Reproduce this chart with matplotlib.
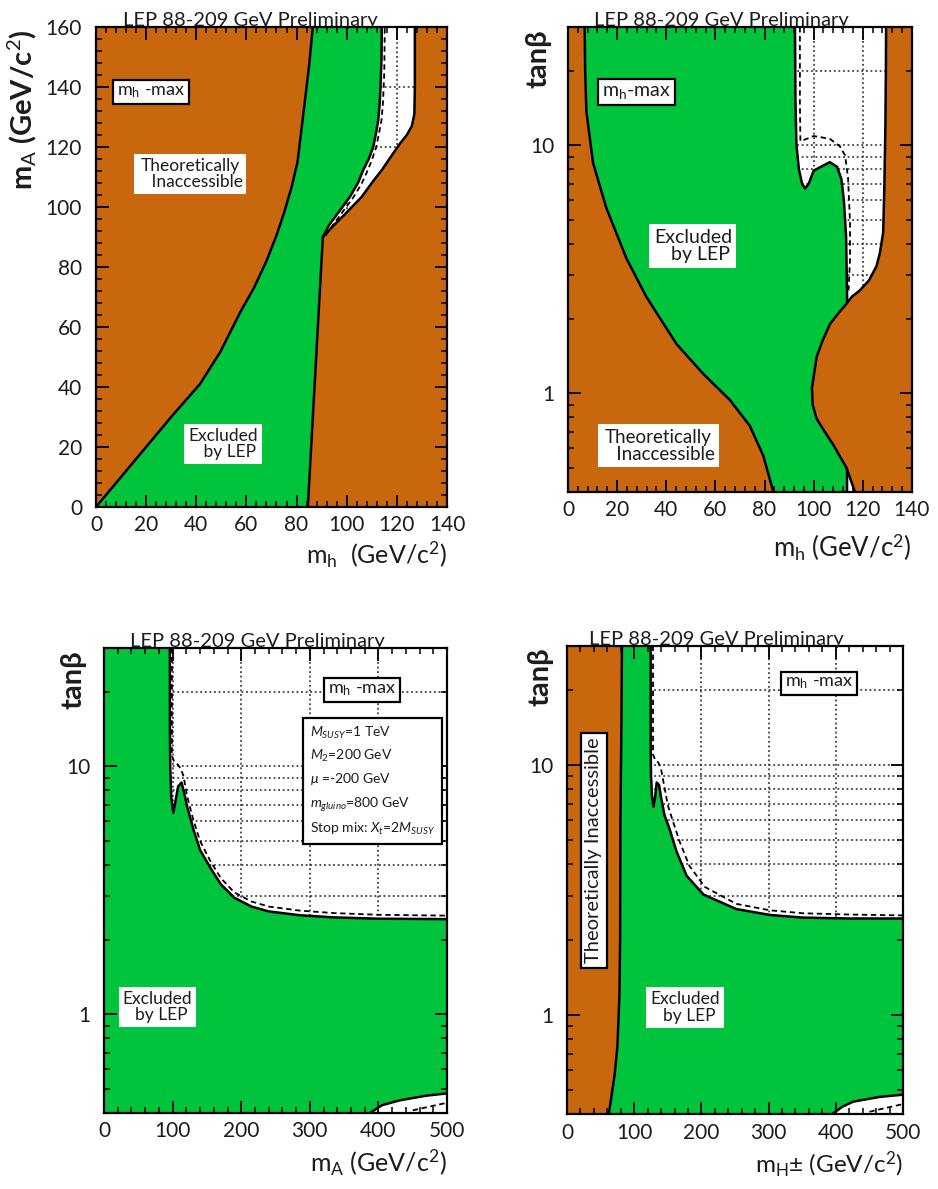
import matplotlib
matplotlib.use("Agg")
import matplotlib.pyplot as plt
from matplotlib.ticker import MultipleLocator, FixedLocator, FixedFormatter, NullFormatter

plt.rcParams['font.family'] = ['Lato', 'DejaVu Sans']
plt.rcParams['mathtext.fontset'] = 'custom'
plt.rcParams['mathtext.rm'] = 'Lato'
plt.rcParams['mathtext.it'] = 'Lato:italic'
plt.rcParams['mathtext.bf'] = 'Lato:bold'

ORANGE = '#C9670F'
GREEN = '#00C43C'
INK = '#1c1c1c'
TITLE = 'LEP 88-209 GeV Preliminary'

# ---------------- (m_h, m_A) plane ----------------
mh_theo_a = [0, 10, 20, 30, 41.5, 49.6, 57.6, 63, 68, 72, 75, 78, 80.4, 83, 85, 86.5]
mA_theo_a = [0, 10, 20, 30, 41, 51.7, 65, 73, 82, 90.5, 98, 106.5, 115, 133, 147, 160]

mh_lep_a = [84.5, 90.5, 93, 97, 101.3, 104.5, 106.6, 108.8, 110.6, 111.8, 112.6, 113.2, 113.5, 113.9, 114]
mA_lep_a = [0, 90, 94, 98.5, 103.4, 108, 112.3, 116, 120, 125, 129, 135, 140, 150, 160]

mh_theo_b = [90.5, 95, 100, 106, 110, 114, 118, 121.3, 124, 126, 127, 127.2, 127.2]
mA_theo_b = [90, 94, 98.2, 103.4, 108, 112.3, 117.2, 121.2, 124, 127, 131, 140, 160]

mh_exp_a = [91.6, 94.5, 98.5, 102.5, 105.8, 108, 110, 111.8, 113, 113.9, 114.5, 115, 115.2]
mA_exp_a = [90.5, 94, 98.5, 103, 107.5, 111.5, 115.5, 120, 125, 129, 135, 145, 160]

# ---------------- (m_h, tan beta) plane ----------------
mh_theo_c = [6.8, 7.0, 7.5, 10.2, 15.6, 23.8, 31.9, 44.2, 55, 65.9, 74, 79.5, 83.6]
tb_theo_c = [30, 20, 13.7, 8.5, 5.6, 3.5, 2.45, 1.58, 1.2, 0.94, 0.74, 0.56, 0.4]

mh_lep_c = [92.4, 92.6, 93, 94, 95.3, 96.5, 98, 100, 104, 106.6, 109.5, 111.3, 112.3, 113.2, 113.6, 113.6]
tb_lep_c = [30, 15, 10, 8, 7.0, 6.7, 7.0, 7.9, 8.3, 8.55, 8.2, 7.3, 6.0, 4.3, 2.5, 0.4]

mh_theo_d = [129.5, 129.4, 129.2, 128.8, 128.3, 127, 125.6, 122.5, 118.8, 115.5, 113.4, 110,
             106.6, 103.5, 101.2, 99.3, 99.6, 101.2, 104.5, 108, 111, 113.4, 116.8]
tb_theo_d = [30, 20, 12, 7, 4.45, 3.7, 3.26, 2.85, 2.6, 2.45, 2.3, 2.1,
             1.9, 1.62, 1.4, 1.05, 0.9, 0.79, 0.7, 0.62, 0.55, 0.5, 0.4]

mh_exp_c = [94.4, 94.4, 94.6, 97, 100, 102.6, 106.7, 110.7, 112.8, 114, 114.8, 114.8, 114.2]
tb_exp_c = [30, 15, 10.4, 10.6, 10.9, 10.8, 10.6, 9.9, 9.1, 7.4, 4.9, 3.47, 2.6]

# ---------------- (m_A, tan beta) plane ----------------
mA_lep_e = [96, 96, 96.5, 98, 101, 104, 108, 113, 117, 121, 130, 140, 155, 170, 190, 215, 240, 285, 335, 400, 500]
tb_lep_e = [30, 15, 10, 7.5, 6.5, 7.2, 8.3, 8.6, 7.8, 6.9, 5.6, 4.6, 3.9, 3.35, 2.95, 2.72, 2.6, 2.51, 2.46, 2.43, 2.42]
mA_low_e = [388, 405, 431, 470, 500]
tb_low_e = [0.4, 0.43, 0.45, 0.47, 0.48]
mA_exp_e = [99, 99, 102, 107, 112, 116, 121, 130, 140, 155, 170, 190, 215, 240, 285, 335, 400, 500]
tb_exp_e = [30, 11, 10.5, 10.2, 9.8, 9.1, 7.6, 6.1, 5.0, 4.15, 3.55, 3.1, 2.85, 2.72, 2.62, 2.56, 2.52, 2.5]
mA_exp_low_e = [450, 475, 500]
tb_exp_low_e = [0.41, 0.425, 0.44]

# ---------------- (m_H+-, tan beta) plane ----------------
mH_theo_f = [81.7, 81, 79.5, 79, 78, 75, 71, 66, 62]
tb_theo_f = [30, 15, 6, 2, 1.2, 0.75, 0.58, 0.47, 0.4]
mH_lep_f = [124.5, 124.5, 125, 126.5, 128.5, 131, 133.5, 137, 140, 145, 153, 163, 178, 203, 252, 302, 351, 420, 500]
tb_lep_f = [30, 12, 9, 7.5, 6.8, 7.4, 8.5, 8.3, 7.4, 6.3, 5.5, 4.5, 3.6, 3.03, 2.65, 2.51, 2.45, 2.43, 2.43]
mH_low_f = [393.6, 410, 426, 465, 500]
tb_low_f = [0.4, 0.43, 0.45, 0.47, 0.48]
mH_exp_f = [128, 128, 131, 136, 140, 144, 150, 158, 168, 182, 205, 252, 302, 351, 420, 500]
tb_exp_f = [30, 11, 10.5, 10.2, 9.6, 8.4, 6.9, 5.9, 4.9, 3.95, 3.25, 2.78, 2.62, 2.55, 2.52, 2.5]
mH_exp_low_f = [450, 475, 500]
tb_exp_low_f = [0.41, 0.425, 0.44]

params_text = ('$M_{SUSY}$=1 TeV\n$M_{2}$=200 GeV\n$\\mu$ =-200 GeV\n'
               '$m_{gluino}$=800 GeV\nStop mix: $X_{t}$=2$M_{SUSY}$')

fig = plt.figure(figsize=(9.38, 11.89), dpi=100)
ax_a = fig.add_axes([0.1023, 0.5736, 0.3742, 0.4037])
ax_c = fig.add_axes([0.6055, 0.5862, 0.3667, 0.3911])
ax_e = fig.add_axes([0.1109, 0.0639, 0.3657, 0.3911])
ax_f = fig.add_axes([0.6045, 0.0627, 0.3582, 0.3944])

TB_LIM = (0.4, 30)
TB_GRID = [2, 3, 4, 5, 6, 7, 8, 9, 10, 20]
TB_MINOR = [0.4, 0.5, 0.6, 0.7, 0.8, 0.9, 2, 3, 4, 5, 6, 7, 8, 9, 20, 30]
GRID_KW = dict(color='#222222', lw=1.1, ls=(0, (1.2, 1.8)), zorder=0.3)


def frame(ax, xlim, ylim, xmaj, xmin, log=False, ymaj=None, ymin=None, xgrid=(), ygrid=()):
    ax.set_xlim(*xlim)
    if log:
        ax.set_yscale('log')
        ax.yaxis.set_major_locator(FixedLocator([1, 10]))
        ax.yaxis.set_major_formatter(FixedFormatter(['1', '10']))
        ax.yaxis.set_minor_locator(FixedLocator(TB_MINOR))
        ax.yaxis.set_minor_formatter(NullFormatter())
    else:
        ax.yaxis.set_major_locator(MultipleLocator(ymaj))
        ax.yaxis.set_minor_locator(MultipleLocator(ymin))
    ax.set_ylim(*ylim)
    ax.xaxis.set_major_locator(MultipleLocator(xmaj))
    ax.xaxis.set_minor_locator(MultipleLocator(xmin))
    ax.tick_params(which='both', direction='in', top=True, right=True, color='black',
                   labelcolor=INK, labelsize=15)
    ax.tick_params(which='major', length=9, width=1.3, pad=6)
    ax.tick_params(which='minor', length=4.5, width=1.1)
    ax.tick_params(axis='y', which='major', pad=10)
    for s in ax.spines.values():
        s.set_linewidth(1.6)
        s.set_zorder(5)
    for gx in xgrid:
        ax.axvline(gx, **GRID_KW)
    for gy in ygrid:
        ax.axhline(gy, **GRID_KW)


def title(ax, x):
    ax.text(x, 0.995, TITLE, transform=ax.transAxes, ha='center', va='bottom',
            fontsize=14.5, color=INK, zorder=6)


def boxed(ax, x, y, s, edge=False, size=13, **kw):
    ax.text(x, y, s, transform=ax.transAxes, ha='center', va='center', fontsize=size,
            color=INK, zorder=7, linespacing=1.05,
            bbox=dict(boxstyle='square,pad=0.22', facecolor='white',
                      edgecolor='black' if edge else 'none', lw=1.6), **kw)


def xlabel(ax, y, s, size=18):
    ax.text(1.0, y, s, transform=ax.transAxes, ha='right', va='center', fontsize=size, color=INK)


def ylabel(ax, x, s, size=21):
    ax.text(x, 0.995, s, transform=ax.transAxes, rotation=90, ha='center', va='top',
            fontsize=size, color=INK, fontweight='bold')


EDGE = dict(color='black', lw=1.8, solid_joinstyle='round')
EXP = dict(color='black', lw=1.3, ls=(0, (3, 2)), zorder=2.5)

# ---- (m_h, m_A) ----
ax = ax_a
frame(ax, (0, 140), (0, 160), 20, 4, ymaj=20, ymin=4, xgrid=[100, 120], ygrid=[120, 140])
ax.fill(mh_theo_a + [0], mA_theo_a + [160], color=ORANGE, lw=0, zorder=1)
ax.fill(mh_theo_a + mh_lep_a[::-1], mA_theo_a + mA_lep_a[::-1], color=GREEN, lw=0, zorder=1)
ax.fill([mh_lep_a[0]] + mh_theo_b + [140, 140], [0] + mA_theo_b + [160, 0], color=ORANGE, lw=0, zorder=1)
ax.plot(mh_theo_a, mA_theo_a, zorder=3, **EDGE)
ax.plot(mh_lep_a, mA_lep_a, zorder=3, **EDGE)
ax.plot(mh_theo_b, mA_theo_b, zorder=3, **EDGE)
ax.plot(mh_exp_a, mA_exp_a, **EXP)
title(ax, 0.44)
boxed(ax, 0.157, 0.865, r'm$_{\mathrm{h}}$ -max', edge=True)
boxed(ax, 0.268, 0.694, 'Theoretically\n   Inaccessible', size=12.5)
boxed(ax, 0.362, 0.131, 'Excluded\n   by LEP', size=12.5)
xlabel(ax, -0.1, r'm$_{\mathrm{h}}$  (GeV/c$^{2}$)')
ax.text(-0.21, 0.995, r'm$_{\mathrm{A}}$ (GeV/c$^{2}$)', transform=ax.transAxes, rotation=90,
        ha='center', va='top', fontsize=21, color=INK, fontweight='bold')

# ---- (m_h, tan beta) ----
ax = ax_c
frame(ax, (0, 140), TB_LIM, 20, 4, log=True, xgrid=[100, 120], ygrid=TB_GRID)
ax.fill([0] + mh_theo_c + [0], [30] + tb_theo_c + [0.4], color=ORANGE, lw=0, zorder=1)
ax.fill(mh_theo_c + mh_lep_c[::-1], tb_theo_c + tb_lep_c[::-1], color=GREEN, lw=0, zorder=1)
ax.plot(mh_lep_c, tb_lep_c, zorder=1.1, **EDGE)
ax.fill(mh_theo_d + [140, 140], tb_theo_d + [0.4, 30], color=ORANGE, lw=0, zorder=1.2)
ax.plot(mh_theo_c, tb_theo_c, zorder=3, **EDGE)
ax.plot(mh_theo_d, tb_theo_d, zorder=3, **EDGE)
ax.plot(mh_exp_c, tb_exp_c, **EXP)
title(ax, 0.445)
boxed(ax, 0.2, 0.86, r'm$_{\mathrm{h}}$-max', edge=True, size=14)
boxed(ax, 0.363, 0.529, 'Excluded\n   by LEP', size=14)
boxed(ax, 0.262, 0.099, 'Theoretically\n   Inaccessible', size=13.5)
xlabel(ax, -0.12, r'm$_{\mathrm{h}}$ (GeV/c$^{2}$)', size=18.5)
ylabel(ax, -0.087, 'tanβ')

# ---- (m_A, tan beta) ----
ax = ax_e
frame(ax, (0, 500), TB_LIM, 100, 20, log=True, xgrid=[100, 200, 300, 400], ygrid=TB_GRID)
ax.fill([0] + mA_lep_e + mA_low_e[::-1] + [0],
        [30] + tb_lep_e + tb_low_e[::-1] + [0.4], color=GREEN, lw=0, zorder=1)
ax.plot(mA_lep_e, tb_lep_e, zorder=3, **EDGE)
ax.plot(mA_low_e, tb_low_e, zorder=3, **EDGE)
ax.plot(mA_exp_e, tb_exp_e, **EXP)
ax.plot(mA_exp_low_e, tb_exp_low_e, **EXP)
title(ax, 0.446)
boxed(ax, 0.751, 0.91, r'm$_{\mathrm{h}}$ -max', edge=True)
ax.text(0.6, 0.835, params_text, transform=ax.transAxes, ha='left', va='top', fontsize=10,
        color=INK, zorder=7, linespacing=1.6,
        bbox=dict(boxstyle='square,pad=0.5', facecolor='white', edgecolor='black', lw=1.6))
boxed(ax, 0.155, 0.228, 'Excluded\n  by LEP', size=12.5)
xlabel(ax, -0.108, r'm$_{\mathrm{A}}$ (GeV/c$^{2}$)')
ylabel(ax, -0.09, 'tanβ')

# ---- (m_H+-, tan beta) ----
ax = ax_f
frame(ax, (0, 500), TB_LIM, 100, 20, log=True, xgrid=[100, 200, 300, 400], ygrid=TB_GRID)
ax.fill([0] + mH_theo_f + [0], [30] + tb_theo_f + [0.4], color=ORANGE, lw=0, zorder=1.2)
ax.fill(mH_theo_f + mH_low_f + mH_lep_f[::-1],
        tb_theo_f + tb_low_f + tb_lep_f[::-1], color=GREEN, lw=0, zorder=1)
ax.plot(mH_theo_f, tb_theo_f, zorder=3, **EDGE)
ax.plot(mH_lep_f, tb_lep_f, zorder=3, **EDGE)
ax.plot(mH_low_f, tb_low_f, zorder=3, **EDGE)
ax.plot(mH_exp_f, tb_exp_f, **EXP)
ax.plot(mH_exp_low_f, tb_exp_low_f, **EXP)
title(ax, 0.446)
boxed(ax, 0.75, 0.919, r'm$_{\mathrm{h}}$ -max', edge=True)
boxed(ax, 0.08, 0.563, 'Theoretically Inaccessible', edge=True, size=14.5, rotation=90)
boxed(ax, 0.351, 0.228, 'Excluded\n  by LEP', size=12.5)
xlabel(ax, -0.107, r'm$_{\mathrm{H}}$$\pm$ (GeV/c$^{2}$)', size=17.5)
ylabel(ax, -0.08, 'tanβ')

fig.savefig('out.png', dpi=100, facecolor='white')
